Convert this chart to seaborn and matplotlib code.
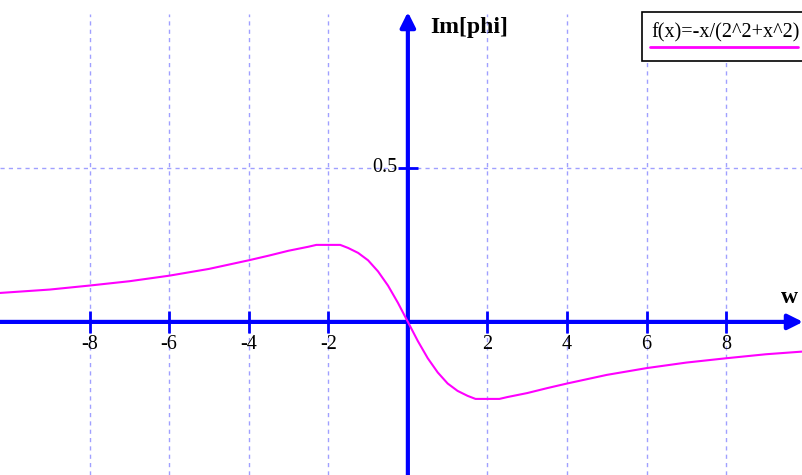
import matplotlib
matplotlib.use("Agg")
import matplotlib.pyplot as plt
from matplotlib.patches import Rectangle
from matplotlib.lines import Line2D
import seaborn as sns
import pandas as pd

# curve (Im[phi] against w)
w_vals = [-10.25, -9, -8, -7, -6, -5, -4, -3.5, -3, -2.5, -2.3, -1.7, -1.5,
          -1.25, -1, -0.75, -0.5, -0.25, 0, 0.25, 0.5, 0.75, 1, 1.25, 1.5,
          1.7, 2.3, 2.5, 3, 3.5, 4, 5, 6, 7, 8, 9, 9.95]
im_vals = [0.094, 0.105, 0.118, 0.132, 0.150, 0.172, 0.200, 0.215, 0.231,
           0.244, 0.25, 0.25, 0.24, 0.224, 0.20, 0.164, 0.118, 0.062, 0.0,
           -0.062, -0.118, -0.164, -0.20, -0.224, -0.24, -0.25, -0.25, -0.244,
           -0.231, -0.215, -0.200, -0.172, -0.150, -0.132, -0.118, -0.105, -0.096]
x_ticks = [-8, -6, -4, -2, 2, 4, 6, 8]
x_tick_labels = ["-8", "-6", "-4", "-2", "2", "4", "6", "8"]
y_ticks = [0.5]
y_tick_labels = ["0.5"]
legend_text = "f(x)=-x/(2^2+x^2)"

df = pd.DataFrame({"w": w_vals, "im": im_vals})

sns.set_style("white")
plt.rcParams['font.family'] = ['Liberation Serif', 'DejaVu Serif']
plt.rcParams['text.color'] = 'black'

fig = plt.figure(figsize=(8.03, 4.75), dpi=100)
ax = fig.add_axes([0, 0, 1, 1])
xmin, xmax = -10.25, 9.93
ymin, ymax = -0.497, 1.045
ax.set_xlim(xmin, xmax)
ax.set_ylim(ymin, ymax)
ax.axis("off")

grid_col = "#a0a0ff"
# grid
ax.vlines(x_ticks, ymin, 1.0, colors=grid_col, linestyles=(0, (3, 3)), lw=1, zorder=1)
ax.hlines(y_ticks, xmin, xmax, colors=grid_col, linestyles=(0, (3, 3)), lw=1, zorder=1)

# axes with arrows
blue = "#0000ff"
ax.annotate("", xy=(xmax, 0), xytext=(xmin, 0),
            arrowprops=dict(arrowstyle="-|>,head_length=0.9,head_width=0.45",
                            color=blue, lw=3, shrinkA=0, shrinkB=0), zorder=3)
ax.annotate("", xy=(0, 1.006), xytext=(0, ymin),
            arrowprops=dict(arrowstyle="-|>,head_length=0.9,head_width=0.45",
                            color=blue, lw=3, shrinkA=0, shrinkB=0), zorder=3)

# ticks
ax.vlines(x_ticks, -0.036, 0.036, colors=blue, lw=2, zorder=3)
ax.hlines(y_ticks, -0.26, 0.26, colors=blue, lw=2, zorder=3)
for t, lab in zip(x_ticks, x_tick_labels):
    ax.text(t, -0.072, lab, ha="center", va="center", fontsize=14.5, color="black")
for t, lab in zip(y_ticks, y_tick_labels):
    ax.text(-0.27, t, lab, ha="right", va="center", fontsize=14.5, color="black")

ax.text(0.55, 0.955, "Im[phi]", ha="left", va="center", fontsize=17,
        fontweight="bold", color="black")
ax.text(9.38, 0.078, "w", ha="left", va="center", fontsize=17,
        fontweight="bold", color="black")

# curve
sns.lineplot(data=df, x="w", y="im", color="#ff00ff", lw=1.5, ax=ax, zorder=4)

# legend box
fig.patches.append(Rectangle((642, 475 - 61), 170, 49, transform=None,
                             fill=True, facecolor="white", edgecolor="black", lw=1.2))
fig.text(651 / 803, 1 - 33 / 475, legend_text, ha="left", va="center",
         fontsize=14.5, color="black")
fig.lines.append(Line2D([650, 798], [475 - 47, 475 - 47], transform=None,
                        color="#ff00ff", lw=2))

plt.savefig("out.png", dpi=100)
